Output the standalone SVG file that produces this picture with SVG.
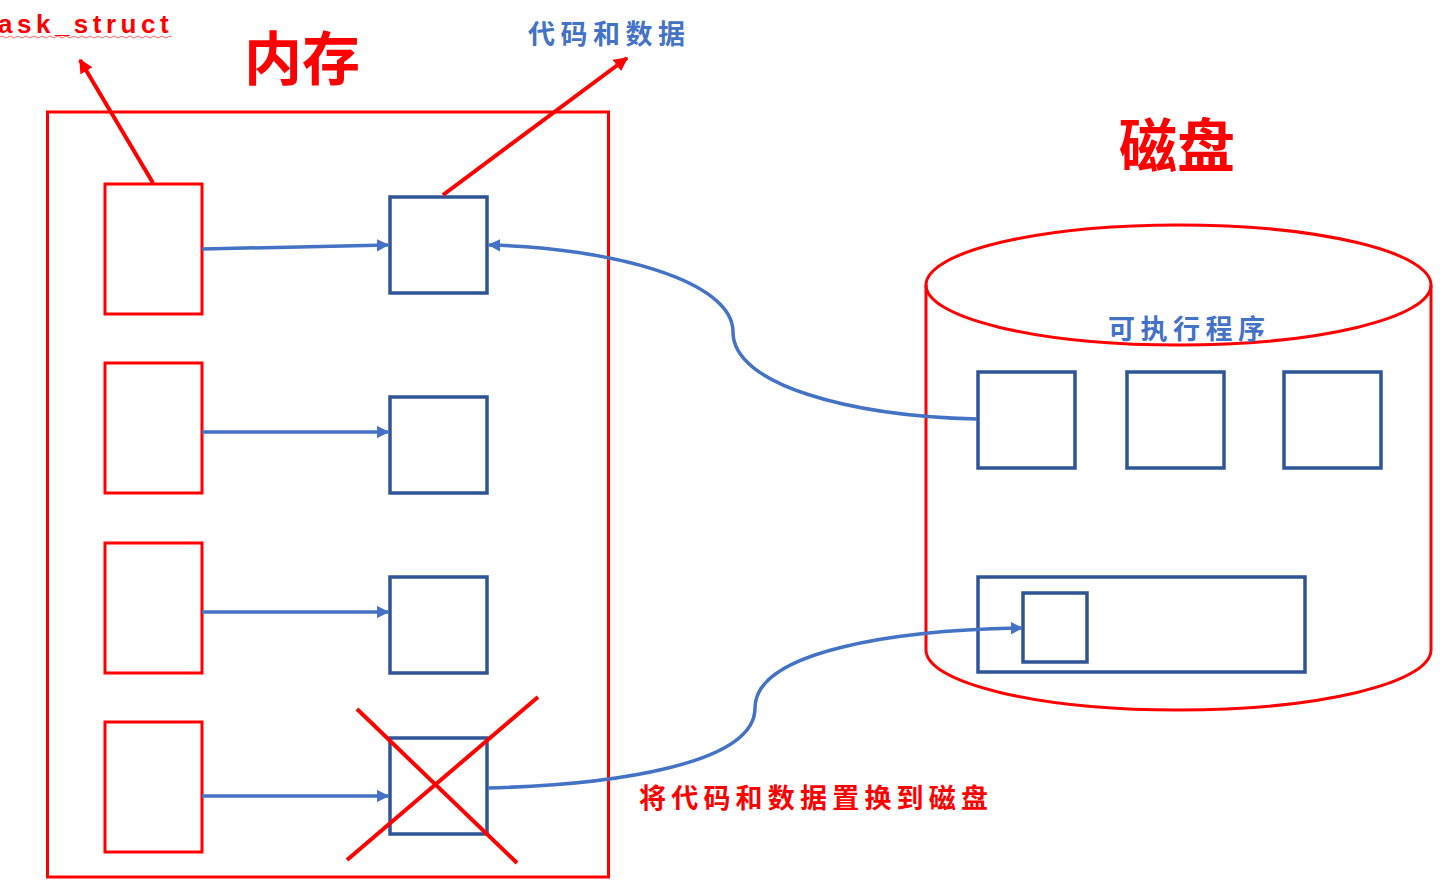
<svg xmlns="http://www.w3.org/2000/svg" width="1442" height="882" viewBox="0 0 1442 882">
<style>
.red{fill:none;stroke:#FF0000;stroke-width:3}
.blue{fill:none;stroke:#2F5597;stroke-width:3.5}
.conn{fill:none;stroke:#4472C4;stroke-width:3.5}
.rl{fill:none;stroke:#FF0000;stroke-width:4}
.t{font-family:"Noto Sans CJK SC","Liberation Sans",sans-serif;font-weight:bold}
</style>
<defs>
<marker id="ab" viewBox="0 0 10 10" refX="9" refY="5" markerWidth="3.6" markerHeight="3.6" orient="auto" markerUnits="strokeWidth"><path d="M0,0 L10,5 L0,10 z" fill="#4472C4"/></marker>
<marker id="ar" viewBox="0 0 10 10" refX="9" refY="5" markerWidth="3.5" markerHeight="3.5" orient="auto" markerUnits="strokeWidth"><path d="M0,0 L10,5 L0,10 z" fill="#FF0000"/></marker>
</defs>
<rect width="1442" height="882" fill="#FFFFFF"/>

<text x="-2" y="33" font-size="26" font-weight="bold" fill="#FF0000" letter-spacing="4.5" font-family="Liberation Sans,sans-serif">ask_struct</text>
<path d="M0,37 q2,-2 4,0 t4,0 t4,0 t4,0 t4,0 t4,0 t4,0 t4,0 t4,0 t4,0 t4,0 t4,0 t4,0 t4,0 t4,0 t4,0 t4,0 t4,0 t4,0 t4,0 t4,0 t4,0 t4,0 t4,0 t4,0 t4,0 t4,0 t4,0 t4,0 t4,0 t4,0 t4,0 t4,0 t4,0 t4,0 t4,0 t4,0 t4,0 t4,0 t4,0 t4,0 t4,0 t4,0" fill="none" stroke="#FF6666" stroke-width="1"/>
<text class="t" x="244" y="80" font-size="58" fill="#FF0000">内存</text>
<text class="t" x="528" y="44" font-size="27" fill="#4472C4" letter-spacing="5.5">代码和数据</text>
<text class="t" x="1119" y="167" font-size="58" fill="#FF0000">磁盘</text>

<g id="memory"><rect class="red" x="47.5" y="112" width="561" height="765"/></g>

<g id="task1"><rect class="red" x="105" y="184" width="97" height="130"/></g>
<g id="task2"><rect class="red" x="105" y="363" width="97" height="130"/></g>
<g id="task3"><rect class="red" x="105" y="543" width="97" height="130"/></g>
<g id="task4"><rect class="red" x="105" y="722" width="97" height="130"/></g>

<g id="mem1"><rect class="blue" x="390" y="197" width="97" height="96"/></g>
<g id="mem2"><rect class="blue" x="390" y="397" width="97" height="96"/></g>
<g id="mem3"><rect class="blue" x="390" y="577" width="97" height="96"/></g>
<g id="mem4"><rect class="blue" x="390" y="738" width="97" height="96"/></g>

<g id="disk">
<path class="red" d="M926,285 L926,650 A252.5,60 0 0 0 1431,650 L1431,285"/>
<ellipse class="red" cx="1178.5" cy="285" rx="252.5" ry="60"/>
</g>
<text class="t" x="1108" y="339" font-size="27" fill="#4472C4" letter-spacing="5.5">可执行程序</text>

<g id="exe1"><rect class="blue" x="978" y="372" width="97" height="96"/></g>
<g id="exe2"><rect class="blue" x="1127" y="372" width="97" height="96"/></g>
<g id="exe3"><rect class="blue" x="1284" y="372" width="97" height="96"/></g>
<g id="swap"><rect class="blue" x="978" y="577" width="327" height="95"/></g>
<g id="swapped"><rect class="blue" x="1023" y="593" width="64" height="69"/></g>

<g id="connectors">
<path class="conn" d="M202,249 L388,245" marker-end="url(#ab)"/>
<path class="conn" d="M202,432 L388,432" marker-end="url(#ab)"/>
<path class="conn" d="M202,612 L388,612" marker-end="url(#ab)"/>
<path class="conn" d="M202,796 L388,796" marker-end="url(#ab)"/>
<path class="conn" d="M977,419 C850,416 733,385 733,332 C733,280 610,248 489,245" marker-end="url(#ab)"/>
<path class="conn" d="M488,788 C610,785 755,765 755,708 C755,650 900,630 1022,628" marker-end="url(#ab)"/>
<path class="rl" d="M153,183 L80,60" marker-end="url(#ar)"/>
<path class="rl" d="M443,195 L627,58" marker-end="url(#ar)"/>
</g>

<g id="cross">
<line class="rl" x1="357" y1="709" x2="517" y2="863"/>
<line class="rl" x1="347" y1="860" x2="538" y2="697"/>
</g>

<text class="t" x="639" y="808" font-size="27" fill="#FF0000" letter-spacing="5.2">将代码和数据置换到磁盘</text>
</svg>
